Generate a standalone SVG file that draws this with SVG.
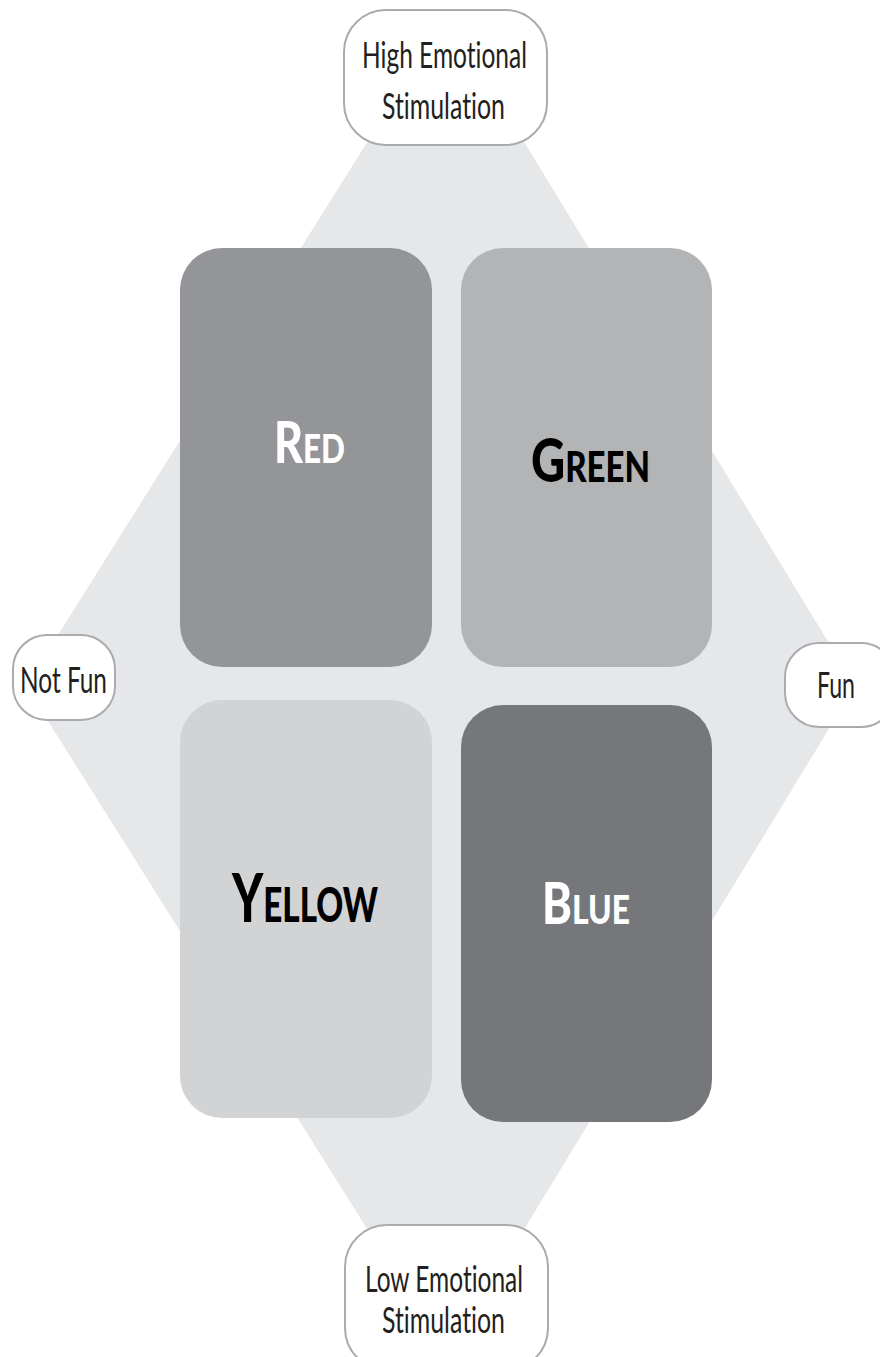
<svg xmlns="http://www.w3.org/2000/svg" width="880" height="1357" viewBox="0 0 880 1357">
  <style>
    .bg { fill: #e6e7e8; }
    .quad { stroke: none; }
    .axis { fill: #ffffff; stroke: #a9abae; stroke-width: 2; }
    .axis-text { font-family: Lato, "Open Sans", "Liberation Sans", sans-serif; font-size: 36px; font-weight: 400; fill: #231f20; font-variant-ligatures: none; }
    .big { font-family: Lato, "Open Sans", "Liberation Sans", sans-serif; font-weight: 900; font-variant: small-caps; font-variant-ligatures: none; }
    .white { fill: #ffffff; }
    .black { fill: #000000; }
  </style>
  <rect x="0" y="0" width="880" height="1357" fill="#ffffff"/>
  <polygon class="bg" points="447,15 855,686 447,1356 26,686"/>

  <g id="red">
    <rect class="quad" x="180" y="248" width="252" height="419" rx="42" fill="#939598"/>
    <text class="big white" x="274" y="463" font-size="57" textLength="71" lengthAdjust="spacingAndGlyphs">Red</text>
  </g>
  <g id="green">
    <rect class="quad" x="461" y="248" width="251" height="419" rx="42" fill="#b3b4b6"/>
    <text class="big black" x="531" y="482" font-size="60" textLength="119" lengthAdjust="spacingAndGlyphs">Green</text>
  </g>
  <g id="yellow">
    <rect class="quad" x="180" y="700" width="252" height="418" rx="42" fill="#d2d3d5"/>
    <text class="big black" x="232" y="922" font-size="67" textLength="146" lengthAdjust="spacingAndGlyphs">Yellow</text>
  </g>
  <g id="blue">
    <rect class="quad" x="461" y="705" width="251" height="417" rx="42" fill="#76777b"/>
    <text class="big white" x="542" y="924" font-size="57" textLength="88" lengthAdjust="spacingAndGlyphs">Blue</text>
  </g>

  <g id="high">
    <rect class="axis" x="344" y="10" width="203" height="135" rx="42"/>
    <text class="axis-text" x="362" y="68" textLength="165" lengthAdjust="spacingAndGlyphs">High Emotional</text>
    <text class="axis-text" x="382" y="119" textLength="123" lengthAdjust="spacingAndGlyphs">Stimulation</text>
  </g>
  <g id="low">
    <rect class="axis" x="345" y="1225" width="203" height="145" rx="42"/>
    <text class="axis-text" x="365" y="1292" textLength="158" lengthAdjust="spacingAndGlyphs">Low Emotional</text>
    <text class="axis-text" x="382" y="1333" textLength="123" lengthAdjust="spacingAndGlyphs">Stimulation</text>
  </g>
  <g id="notfun">
    <rect class="axis" x="13" y="635" width="102" height="85" rx="34"/>
    <text class="axis-text" x="20" y="693" textLength="87" lengthAdjust="spacingAndGlyphs">Not Fun</text>
  </g>
  <g id="fun">
    <rect class="axis" x="785" y="643" width="110" height="84" rx="34"/>
    <text class="axis-text" x="817" y="698" textLength="38" lengthAdjust="spacingAndGlyphs">Fun</text>
  </g>
  <g id="connectors"/>
</svg>
